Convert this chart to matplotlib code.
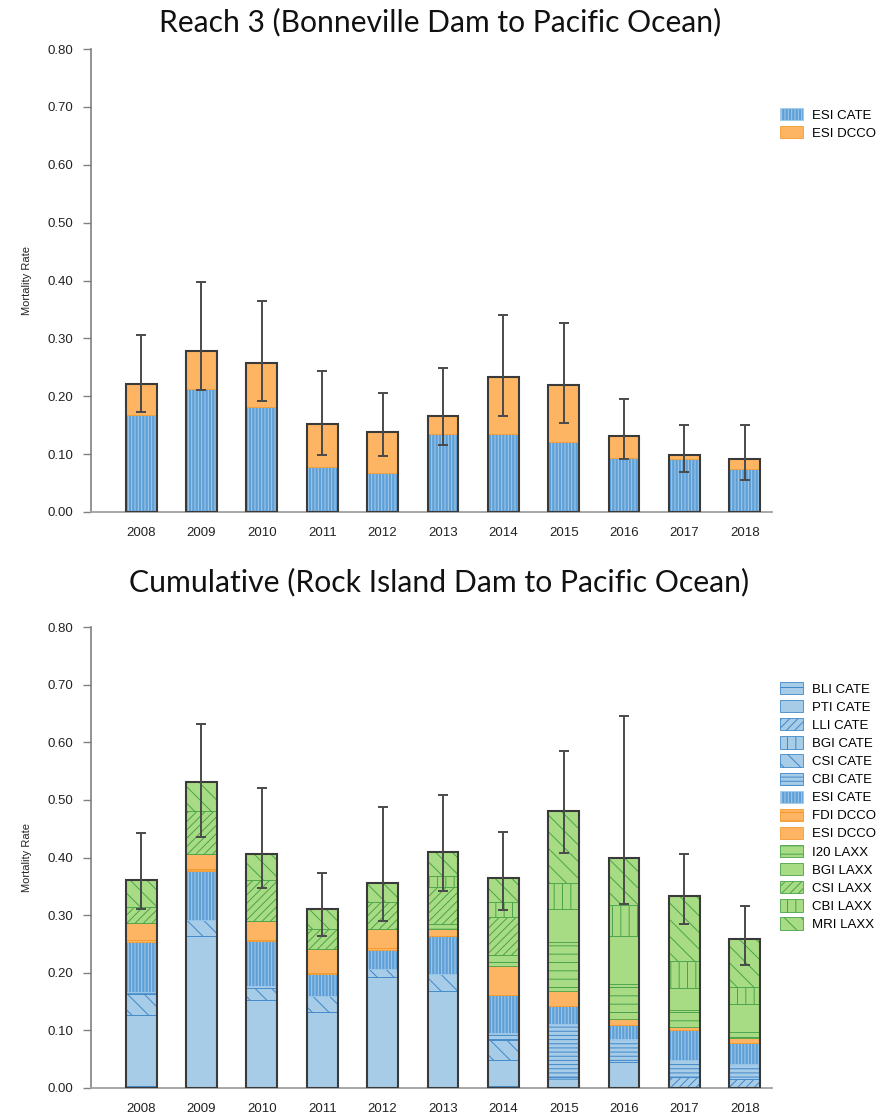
import numpy as np
import matplotlib
matplotlib.use('Agg')
import matplotlib.pyplot as plt
from matplotlib.patches import Patch

plt.rcParams['hatch.linewidth'] = 0.7
plt.rcParams['font.family'] = ['Liberation Sans', 'DejaVu Sans']

years = ['2008', '2009', '2010', '2011', '2012', '2013', '2014', '2015', '2016', '2017', '2018']

# ---- Reach 3 (Bonneville Dam to Pacific Ocean) ----
r3_esi_cate = [0.168, 0.212, 0.181, 0.077, 0.068, 0.135, 0.134, 0.121, 0.093, 0.091, 0.074]
r3_esi_dcco = [0.054, 0.066, 0.076, 0.075, 0.070, 0.031, 0.100, 0.098, 0.038, 0.008, 0.017]
r3_err_low = [0.172, 0.210, 0.191, 0.098, 0.096, 0.116, 0.166, 0.153, 0.092, 0.069, 0.056]
r3_err_high = [0.306, 0.397, 0.365, 0.243, 0.206, 0.249, 0.340, 0.326, 0.196, 0.150, 0.150]

# ---- Cumulative (Rock Island Dam to Pacific Ocean) ----
cum_labels = ['BLI CATE', 'PTI CATE', 'LLI CATE', 'BGI CATE', 'CSI CATE', 'CBI CATE', 'ESI CATE',
              'FDI DCCO', 'ESI DCCO', 'I20 LAXX', 'BGI LAXX', 'CSI LAXX', 'CBI LAXX', 'MRI LAXX']
bli_cate = [0.004, 0.000, 0.000, 0.000, 0.000, 0.000, 0.004, 0.019, 0.000, 0.000, 0.000]
pti_cate = [0.122, 0.264, 0.152, 0.132, 0.192, 0.168, 0.045, 0.000, 0.045, 0.000, 0.000]
lli_cate = [0.000, 0.000, 0.000, 0.000, 0.000, 0.000, 0.000, 0.000, 0.000, 0.019, 0.016]
bgi_cate = [0.000, 0.000, 0.000, 0.000, 0.000, 0.000, 0.000, 0.000, 0.000, 0.000, 0.000]
csi_cate = [0.037, 0.028, 0.022, 0.027, 0.015, 0.030, 0.035, 0.000, 0.000, 0.000, 0.000]
cbi_cate = [0.003, 0.000, 0.003, 0.000, 0.000, 0.000, 0.011, 0.092, 0.040, 0.029, 0.026]
esi_cate = [0.087, 0.085, 0.078, 0.039, 0.033, 0.066, 0.067, 0.032, 0.025, 0.052, 0.036]
fdi_dcco = [0.003, 0.003, 0.0025, 0.002, 0.0025, 0.000, 0.000, 0.000, 0.000, 0.000, 0.000]
esi_dcco = [0.031, 0.026, 0.0325, 0.041, 0.0335, 0.012, 0.0505, 0.026, 0.010, 0.006, 0.009]
i20_laxx = [0.000, 0.000, 0.000, 0.000, 0.000, 0.009, 0.0175, 0.084, 0.061, 0.030, 0.010]
bgi_laxx = [0.000, 0.000, 0.000, 0.000, 0.000, 0.000, 0.000, 0.058, 0.083, 0.037, 0.049]
csi_laxx = [0.027, 0.075, 0.071, 0.035, 0.046, 0.063, 0.067, 0.000, 0.000, 0.000, 0.000]
cbi_laxx = [0.000, 0.000, 0.000, 0.000, 0.000, 0.020, 0.025, 0.045, 0.054, 0.047, 0.029]
mri_laxx = [0.047, 0.050, 0.045, 0.035, 0.034, 0.041, 0.042, 0.124, 0.081, 0.114, 0.084]
cum_err_low = [0.311, 0.436, 0.347, 0.263, 0.289, 0.341, 0.309, 0.407, 0.319, 0.285, 0.214]
cum_err_high = [0.442, 0.631, 0.520, 0.373, 0.488, 0.508, 0.4445, 0.584, 0.645, 0.406, 0.315]

cum_series = [bli_cate, pti_cate, lli_cate, bgi_cate, csi_cate, cbi_cate, esi_cate,
              fdi_dcco, esi_dcco, i20_laxx, bgi_laxx, csi_laxx, cbi_laxx, mri_laxx]

# styles: (facecolor, hatchcolor, hatch)
LB, LBH = '#a7cce7', '#3f87c9'
EB, EBH = '#5f9fd6', '#a3cdee'
OR, ORH = '#fdb563', '#f39a2e'
GR, GRH = '#a8dc84', '#4aa24a'
styles = {
    'BLI CATE': (LB, LBH, '--'),
    'PTI CATE': (LB, LBH, ''),
    'LLI CATE': (LB, LBH, '////'),
    'BGI CATE': (LB, LBH, '||'),
    'CSI CATE': (LB, LBH, '\\\\'),
    'CBI CATE': (LB, LBH, '----'),
    'ESI CATE': (EB, EBH, '|||||'),
    'FDI DCCO': (OR, ORH, '--'),
    'ESI DCCO': (OR, ORH, ''),
    'I20 LAXX': (GR, GRH, '--'),
    'BGI LAXX': (GR, GRH, ''),
    'CSI LAXX': (GR, GRH, '////'),
    'CBI LAXX': (GR, GRH, '||'),
    'MRI LAXX': (GR, GRH, '\\\\'),
}

W, H = 886, 1118
fig = plt.figure(figsize=(W / 100, H / 100), dpi=100)

def fx(px):
    return px / W

def fy(py):
    return 1 - py / H

ax1 = fig.add_axes([fx(91), fy(512), fx(772) - fx(91), fy(49) - fy(512)])
ax2 = fig.add_axes([fx(91), fy(1088), fx(772) - fx(91), fy(627) - fy(1088)])

x = np.arange(len(years))
bw = 0.51
OUT = '#3a3a3a'

def style_axes(ax):
    ax.set_ylim(0, 0.8)
    ax.set_xlim(-0.83, 10.45)
    ax.set_yticks(np.arange(0, 0.81, 0.1))
    ax.set_yticklabels([f'{v:.2f}' for v in np.arange(0, 0.81, 0.1)])
    ax.set_xticks(x)
    ax.set_xticklabels(years)
    ax.tick_params(axis='y', length=6, width=1.0, color='#808080', pad=7, labelsize=9.5, labelcolor='#222222')
    ax.tick_params(axis='x', length=0, pad=11, labelsize=9.5, labelcolor='#222222')
    for s in ['top', 'right']:
        ax.spines[s].set_visible(False)
    ax.spines['left'].set_color('#808080')
    ax.spines['left'].set_linewidth(1.2)
    ax.spines['bottom'].set_color('#a0a0a0')
    ax.spines['bottom'].set_linewidth(1.3)
    ax.set_ylabel('Mortality Rate', fontsize=8, color='#222222', labelpad=11)

LEG = dict(frameon=False, fontsize=9.5, handlelength=1.75, handleheight=1.05, handletextpad=0.65,
           labelspacing=0.34, borderpad=0, borderaxespad=0, loc='upper left')

# ---- top chart ----
bottom = np.zeros(len(years))
top_series = [('ESI CATE', r3_esi_cate), ('ESI DCCO', r3_esi_dcco)]
for name, vals in top_series:
    fc, hc, hatch = styles[name]
    ax1.bar(x, vals, bw, bottom=bottom, facecolor=fc, edgecolor=hc, hatch=hatch, linewidth=0.6, zorder=2)
    bottom = bottom + np.array(vals)
ax1.bar(x, bottom, bw, fill=False, edgecolor=OUT, linewidth=1.5, zorder=3)
ax1.errorbar(x, bottom, yerr=[bottom - np.array(r3_err_low), np.array(r3_err_high) - bottom],
             fmt='none', ecolor='#4a4a4a', elinewidth=1.4, capsize=3.8, capthick=1.4, zorder=4)
style_axes(ax1)
h1 = [Patch(facecolor=styles[n][0], edgecolor=styles[n][1], hatch=styles[n][2], linewidth=0.6, label=n)
      for n, _ in top_series]
fig.legend(handles=h1, bbox_to_anchor=(fx(780), fy(108)), **LEG)

# ---- bottom chart ----
bottom = np.zeros(len(years))
for name, vals in zip(cum_labels, cum_series):
    fc, hc, hatch = styles[name]
    v = np.array(vals)
    ax2.bar(x, v, bw, bottom=bottom, facecolor=fc, edgecolor=hc, hatch=hatch, linewidth=0.6, zorder=2)
    bottom = bottom + v
ax2.bar(x, bottom, bw, fill=False, edgecolor=OUT, linewidth=1.5, zorder=3)
ax2.errorbar(x, bottom, yerr=[bottom - np.array(cum_err_low), np.array(cum_err_high) - bottom],
             fmt='none', ecolor='#4a4a4a', elinewidth=1.4, capsize=3.8, capthick=1.4, zorder=4)
style_axes(ax2)
h2 = [Patch(facecolor=styles[n][0], edgecolor=styles[n][1], hatch=styles[n][2], linewidth=0.6, label=n)
      for n in cum_labels]
fig.legend(handles=h2, bbox_to_anchor=(fx(780), fy(682)), **LEG)

fig.text(fx(440), fy(22), 'Reach 3 (Bonneville Dam to Pacific Ocean)', ha='center', va='center',
         fontsize=21.6, family=['Lato', 'DejaVu Sans'], color='#111111')
fig.text(fx(439), fy(582), 'Cumulative (Rock Island Dam to Pacific Ocean)', ha='center', va='center',
         fontsize=21.7, family=['Lato', 'DejaVu Sans'], color='#111111')

fig.savefig('out.png', dpi=100)
